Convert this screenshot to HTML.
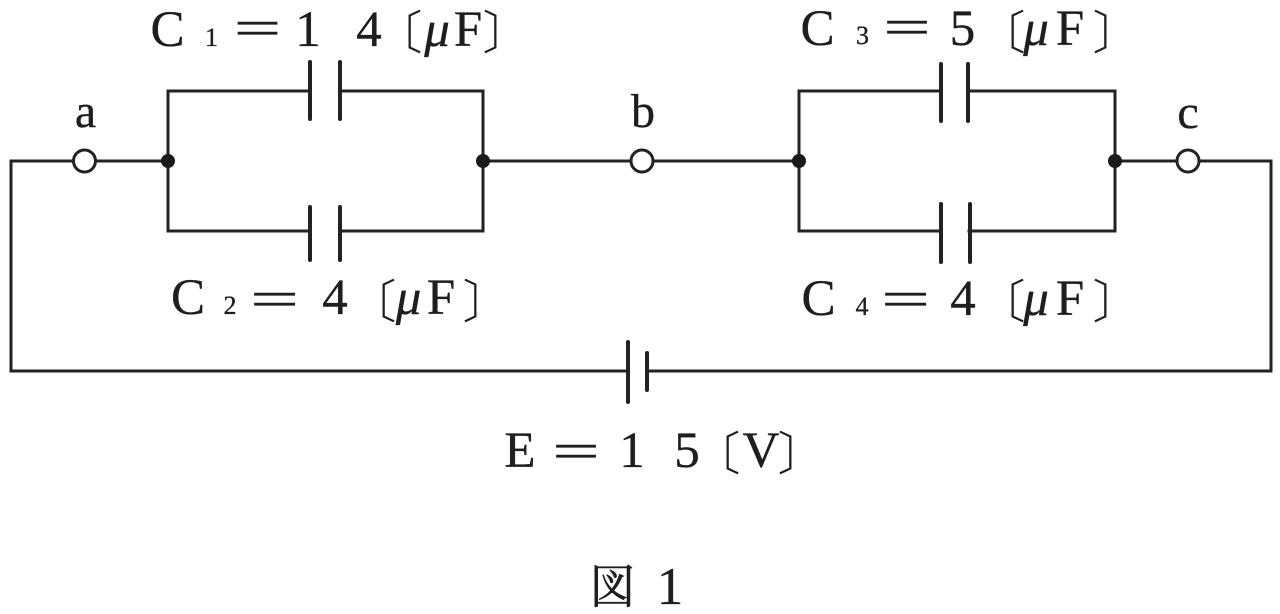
<!DOCTYPE html>
<html><head><meta charset="utf-8"><style>
html,body{margin:0;padding:0;background:#fff;}
svg{display:block;}
.t{font-family:"Liberation Serif",serif;fill:#1e1e1e;stroke:#1e1e1e;stroke-width:0.35;text-anchor:middle;}
.k{font-family:"Noto Serif CJK SC","Noto Sans CJK JP",serif;fill:#1e1e1e;stroke:#1e1e1e;stroke-width:0.5;text-anchor:middle;}
.i{font-style:italic;}
</style></head><body>
<svg width="1280" height="614" viewBox="0 0 1280 614" xmlns="http://www.w3.org/2000/svg">
<g stroke="#222" stroke-width="3" fill="none" stroke-linecap="square">
  <polyline points="73,161 11,161 11,371 627,371"/>
  <polyline points="648,371 1271,371 1271,161 1199,161"/>
  <line x1="628" y1="342" x2="628" y2="402" stroke-width="4" stroke-linecap="round"/>
  <line x1="647" y1="353" x2="647" y2="390" stroke-width="4" stroke-linecap="round"/>
  <line x1="96" y1="161" x2="168" y2="161"/>
  <polyline points="310,91 168,91 168,231 310,231"/>
  <polyline points="340,91 483,91 483,231 340,231"/>
  <line x1="310" y1="62" x2="310" y2="119" stroke-width="4" stroke-linecap="round"/>
  <line x1="340" y1="62" x2="340" y2="119" stroke-width="4" stroke-linecap="round"/>
  <line x1="310" y1="207" x2="310" y2="260" stroke-width="4" stroke-linecap="round"/>
  <line x1="340" y1="207" x2="340" y2="260" stroke-width="4" stroke-linecap="round"/>
  <line x1="483" y1="161" x2="631" y2="161"/>
  <line x1="653" y1="161" x2="799" y2="161"/>
  <polyline points="941,91 799,91 799,231 941,231"/>
  <polyline points="969,91 1115,91 1115,231 969,231"/>
  <line x1="941" y1="64" x2="941" y2="121" stroke-width="4" stroke-linecap="round"/>
  <line x1="968" y1="64" x2="968" y2="121" stroke-width="4" stroke-linecap="round"/>
  <line x1="941" y1="204" x2="941" y2="262" stroke-width="4" stroke-linecap="round"/>
  <line x1="970" y1="204" x2="970" y2="262" stroke-width="4" stroke-linecap="round"/>
  <line x1="1115" y1="161" x2="1177" y2="161"/>
  <circle cx="84.5" cy="161" r="11" fill="#fff"/>
  <circle cx="642" cy="161" r="11" fill="#fff"/>
  <circle cx="1188" cy="161" r="11" fill="#fff"/>
</g>
<g fill="#1a1a1a">
  <circle cx="168" cy="161" r="7"/>
  <circle cx="483" cy="161" r="7"/>
  <circle cx="799" cy="161" r="7"/>
  <circle cx="1115" cy="161" r="7"/>
</g>

<text class="t" x="85.5" y="127" font-size="48">a</text>
<text class="t" x="643" y="127" font-size="48">b</text>
<text class="t" x="1188" y="128" font-size="48">c</text>

<!-- C1 -->
<text class="t" x="167.5" y="46" font-size="51">C</text>
<text class="t" x="211.5" y="46" font-size="26">1</text>
<text class="t" font-size="51" transform="translate(257.5,45) scale(1.65,1)">=</text>
<text class="t" x="308" y="46" font-size="51">1</text>
<text class="t" x="369" y="46" font-size="51">4</text>
<text class="k" x="399" y="49" font-size="46">〔</text>
<text class="t i" x="437" y="46" font-size="51">μ</text>
<text class="t" x="468" y="46" font-size="51">F</text>
<text class="k" x="506" y="49" font-size="46">〕</text>

<!-- C3 -->
<text class="t" x="817.5" y="45" font-size="51">C</text>
<text class="t" x="862.5" y="44" font-size="26">3</text>
<text class="t" font-size="51" transform="translate(907,44) scale(1.65,1)">=</text>
<text class="t" x="962.5" y="45" font-size="51">5</text>
<text class="k" x="1002" y="49" font-size="46">〔</text>
<text class="t i" x="1036" y="45" font-size="51">μ</text>
<text class="t" x="1070" y="45" font-size="51">F</text>
<text class="k" x="1116" y="49" font-size="46">〕</text>

<!-- C2 -->
<text class="t" x="188" y="314" font-size="51">C</text>
<text class="t" x="230" y="314" font-size="26">2</text>
<text class="t" font-size="51" transform="translate(274.5,316) scale(1.7,1)">=</text>
<text class="t" x="335" y="314" font-size="51">4</text>
<text class="k" x="373" y="318" font-size="46">〔</text>
<text class="t i" x="408.5" y="314" font-size="51">μ</text>
<text class="t" x="441" y="314" font-size="51">F</text>
<text class="k" x="486" y="318" font-size="46">〕</text>

<!-- C4 -->
<text class="t" x="818.5" y="315" font-size="51">C</text>
<text class="t" x="862" y="315" font-size="26">4</text>
<text class="t" font-size="51" transform="translate(905.5,316) scale(1.7,1)">=</text>
<text class="t" x="963" y="315" font-size="51">4</text>
<text class="k" x="1002" y="318" font-size="46">〔</text>
<text class="t i" x="1036" y="315" font-size="51">μ</text>
<text class="t" x="1070" y="315" font-size="51">F</text>
<text class="k" x="1116" y="318" font-size="46">〕</text>

<!-- E -->
<text class="t" x="520" y="467" font-size="51">E</text>
<text class="t" font-size="51" transform="translate(576,468) scale(1.65,1)">=</text>
<text class="t" x="632" y="467" font-size="51">1</text>
<text class="t" x="687" y="467" font-size="51">5</text>
<text class="k" x="717" y="470" font-size="46">〔</text>
<text class="t" x="761" y="467" font-size="51">V</text>
<text class="k" x="801" y="470" font-size="46">〕</text>

<!-- caption -->
<text class="k" x="612.5" y="603" font-size="46">図</text>
<text class="t" x="670" y="604" font-size="53">1</text>
</svg>
</body></html>
